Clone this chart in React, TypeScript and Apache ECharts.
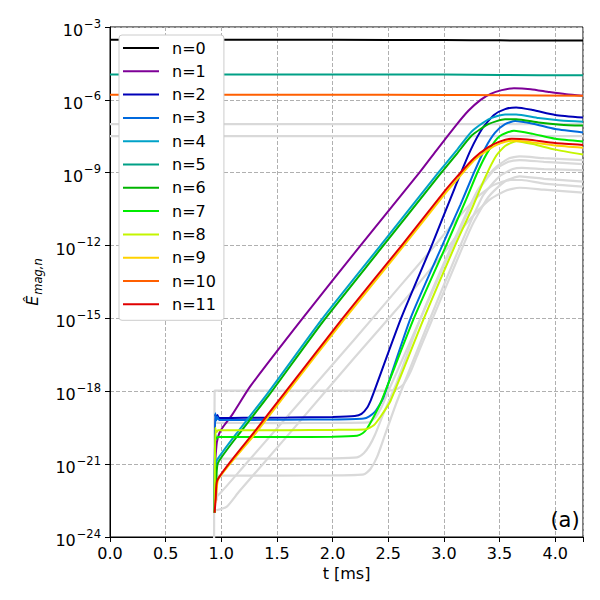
import React, { useEffect, useRef } from "react";
import * as echarts from "echarts";

// ---------- data (t in ms, values stored as log10 of E_mag,n) ----------
const LEGEND_NAMES = ["n=0", "n=1", "n=2", "n=3", "n=4", "n=5", "n=6", "n=7", "n=8", "n=9", "n=10", "n=11"];
const COLORS = ["#000000", "#7e0097", "#0000b8", "#0069dd", "#00a2c8", "#00a086", "#00b400", "#00ec00", "#c4f500", "#ffd200", "#ff5f00", "#e00000"];
const GREY = "#d9d9d9";

const X_TICKS = [0, 0.5, 1, 1.5, 2, 2.5, 3, 3.5, 4];
const Y_EXPONENTS = [-24, -21, -18, -15, -12, -9, -6, -3];

// constant (equilibrium) modes
const tConst = [0, 1, 2, 3, 3.5, 4.25];
const n0Log = [-3.52, -3.525, -3.53, -3.54, -3.55, -3.56];
const n5Log = [-4.955, -4.955, -4.957, -4.96, -4.975, -4.99];
const n10Log = [-5.79, -5.79, -5.79, -5.8, -5.81, -5.83];
const gConstALog = [-7.0, -7.0, -7.0, -7.0, -7.0, -7.0];
const gConstBLog = [-7.49, -7.49, -7.49, -7.49, -7.49, -7.49];

// n=1
const n1T = [0.945, 0.96, 0.98, 1.01, 1.1, 1.26, 1.73, 2.25, 2.78, 2.93, 3.1, 3.22, 3.33, 3.42, 3.52, 3.63, 3.78, 3.95, 4.1, 4.25];
const n1Log = [-20.9, -20.1, -19.75, -19.5, -18.95, -17.8, -15.0, -12.0, -9.0, -8.1, -7.1, -6.45, -6.0, -5.75, -5.6, -5.52, -5.56, -5.68, -5.77, -5.83];
// n=2
const n2T = [0.94, 0.945, 0.955, 0.965, 0.98, 1.2, 1.6, 2.0, 2.2, 2.26, 2.31, 2.345, 2.37, 2.615, 2.89, 3.1, 3.24, 3.35, 3.45, 3.55, 3.65, 3.8, 4.0, 4.25];
const n2Log = [-23, -18.95, -19.15, -18.98, -19.1, -19.09, -19.08, -19.06, -19.02, -18.93, -18.68, -18.35, -18.05, -15.0, -12.0, -9.6, -8.07, -7.15, -6.62, -6.38, -6.31, -6.42, -6.62, -6.73];
// n=3
const n3T = [0.94, 0.945, 0.955, 0.965, 0.98, 1.2, 1.6, 2.0, 2.28, 2.33, 2.38, 2.42, 2.46, 2.7, 2.985, 3.15, 3.27, 3.37, 3.46, 3.55, 3.64, 3.8, 4.0, 4.25];
const n3Log = [-23, -18.9, -19.2, -19.05, -19.18, -19.18, -19.17, -19.16, -19.12, -19.03, -18.85, -18.58, -18.22, -15.0, -12.0, -10.3, -9.0, -8.0, -7.35, -7.0, -6.87, -6.98, -7.2, -7.34];
// n=4
const n4T = [0.945, 0.96, 1.16, 1.43, 1.91, 2.43, 2.95, 3.12, 3.25, 3.4, 3.55, 3.65, 3.85, 4.05, 4.25];
const n4Log = [-21.3, -20.85, -19.6, -18.0, -15.0, -12.0, -9.0, -8.05, -7.3, -6.8, -6.6, -6.6, -6.75, -6.85, -6.9];
// n=6
const n6T = [0.945, 0.955, 0.97, 1.16, 1.43, 1.91, 2.43, 2.95, 3.12, 3.25, 3.4, 3.55, 3.65, 3.85, 4.05, 4.25];
const n6Log = [-22.0, -21.6, -20.95, -19.75, -18.15, -15.15, -12.15, -9.15, -8.2, -7.47, -7.0, -6.8, -6.8, -6.93, -7.02, -7.06];
// n=7
const n7T = [0.94, 0.945, 0.955, 0.97, 1.2, 1.6, 2.0, 2.22, 2.27, 2.31, 2.37, 2.43, 2.73, 3.02, 3.2, 3.31, 3.4, 3.5, 3.63, 3.8, 4.0, 4.25];
const n7Log = [-23, -19.75, -19.95, -19.88, -19.88, -19.88, -19.87, -19.83, -19.73, -19.53, -19.05, -18.5, -15.0, -12.0, -10.1, -8.9, -8.1, -7.5, -7.27, -7.4, -7.6, -7.71];
// n=8
const n8T = [0.94, 0.945, 0.955, 0.97, 1.2, 1.6, 2.0, 2.3, 2.37, 2.43, 2.52, 2.82, 3.1, 3.25, 3.37, 3.47, 3.55, 3.65, 3.8, 4.0, 4.25];
const n8Log = [-23, -19.5, -19.7, -19.6, -19.6, -19.6, -19.59, -19.56, -19.4, -19.05, -18.4, -15.0, -12.0, -10.5, -9.2, -8.3, -7.9, -7.7, -7.82, -8.05, -8.25];
// n=9
const n9T = [0.945, 0.955, 0.975, 1.31, 1.58, 2.09, 2.62, 3.0, 3.13, 3.27, 3.4, 3.5, 3.61, 3.75, 4.0, 4.25];
const n9Log = [-22.6, -22.2, -21.6, -19.72, -18.12, -15.12, -12.12, -9.92, -9.22, -8.5, -8.05, -7.8, -7.68, -7.72, -7.88, -7.97];
// n=11
const n11T = [0.94, 0.95, 0.965, 1.31, 1.58, 2.09, 2.62, 3.0, 3.13, 3.27, 3.4, 3.5, 3.61, 3.75, 4.0, 4.25];
const n11Log = [-23.0, -22.4, -21.65, -19.6, -18.0, -15.0, -12.0, -9.8, -9.1, -8.4, -7.95, -7.72, -7.6, -7.63, -7.78, -7.86];

// higher modes (grey)
const gAT = [0.935, 0.94, 1.5, 2.0, 2.55, 2.63, 2.7, 2.78, 3.0, 3.25, 3.4, 3.55, 3.68, 3.9, 4.25];
const gALog = [-27, -17.97, -17.97, -17.97, -17.96, -17.75, -17.2, -16.3, -13.9, -11.2, -10.0, -9.35, -9.15, -9.25, -9.37];
const gBT = [0.94, 0.95, 1.5, 2.0, 2.32, 2.38, 2.44, 2.52, 2.8, 3.08, 3.3, 3.45, 3.58, 3.68, 3.9, 4.25];
const gBLog = [-20, -19.3, -19.31, -19.3, -19.28, -19.1, -18.65, -17.8, -14.9, -12.0, -9.8, -8.9, -8.55, -8.48, -8.55, -8.65];
const gCT = [0.95, 0.96, 1.5, 2.0, 2.22, 2.28, 2.33, 2.38, 2.45, 2.58, 2.79, 3.07, 3.3, 3.45, 3.58, 3.68, 3.9, 4.25];
const gCLog = [-22, -20.77, -20.77, -20.76, -20.72, -20.55, -20.25, -19.8, -19.0, -17.6, -15.0, -12.0, -9.75, -8.85, -8.42, -8.33, -8.4, -8.48];
const gDT = [0.96, 0.97, 1.5, 2.0, 2.28, 2.34, 2.4, 2.47, 2.58, 2.85, 3.12, 3.35, 3.5, 3.62, 3.7, 3.9, 4.25];
const gDLog = [-22.5, -21.47, -21.47, -21.46, -21.42, -21.2, -20.7, -19.8, -18.4, -15.3, -12.3, -9.95, -9.15, -8.85, -8.8, -8.85, -8.9];
const gET = [0.955, 1.0, 1.2, 2.19, 2.6, 2.9, 3.1, 3.3, 3.45, 3.6, 3.7, 3.9, 4.25];
const gELog = [-22.35, -22.15, -21.1, -15.9, -13.7, -12.1, -11.0, -10.0, -9.5, -9.3, -9.3, -9.45, -9.57];
const gFT = [0.955, 1.05, 1.16, 1.64, 2.2, 2.6, 3.0, 3.2, 3.4, 3.55, 3.68, 3.9, 4.25];
const gFLog = [-22.9, -22.75, -22.13, -19.59, -16.6, -14.5, -12.3, -11.1, -10.15, -9.75, -9.62, -9.7, -9.82];

const FONT = "DejaVu Sans";

function pairs(t: number[], lg: number[]) {
  return t.map((x, i) => [x, lg[i]]);
}

function supExp(v: number) {
  const e = Math.round(v);
  if (!Y_EXPONENTS.includes(e) || Math.abs(v - e) > 1e-6) return "";
  return `{b|10}{s|${String(e).replace("-", "\u2212")}}`;
}

export default function App() {
  const ref = useRef<HTMLDivElement>(null);
  useEffect(() => {
    if (!ref.current) return;
    const chart = echarts.init(ref.current, undefined, { renderer: "svg" });

    const colored: [string, number[], number[]][] = [
      ["n=0", tConst, n0Log],
      ["n=1", n1T, n1Log],
      ["n=2", n2T, n2Log],
      ["n=3", n3T, n3Log],
      ["n=4", n4T, n4Log],
      ["n=5", tConst, n5Log],
      ["n=6", n6T, n6Log],
      ["n=7", n7T, n7Log],
      ["n=8", n8T, n8Log],
      ["n=9", n9T, n9Log],
      ["n=10", tConst, n10Log],
      ["n=11", n11T, n11Log],
    ];
    const greys: [number[], number[]][] = [
      [tConst, gConstALog],
      [tConst, gConstBLog],
      [gAT, gALog],
      [gBT, gBLog],
      [gCT, gCLog],
      [gDT, gDLog],
      [gET, gELog],
      [gFT, gFLog],
    ];

    const series: any[] = [];
    greys.forEach(([t, lg], i) => {
      series.push({
        type: "line",
        name: "g" + i,
        data: pairs(t, lg),
        symbol: "none",
        smooth: 0.2,
        color: GREY,
        lineStyle: { color: GREY, width: 2.2 },
        silent: true,
        emphasis: { disabled: true },
        z: 2,
      });
    });
    colored.forEach(([name, t, lg], i) => {
      series.push({
        type: "line",
        name,
        data: pairs(t, lg),
        symbol: "none",
        smooth: 0.2,
        color: COLORS[i],
        lineStyle: { color: COLORS[i], width: 2 },
        silent: true,
        emphasis: { disabled: true },
        z: 3,
      });
    });

    chart.setOption({
      animation: false,
      backgroundColor: "#ffffff",
      textStyle: { fontFamily: FONT },
      grid: {
        left: 110,
        right: 17,
        top: 27,
        bottom: 63,
        containLabel: false,
        outerBoundsMode: "none",
        show: true,
        borderColor: "#000",
        borderWidth: 1,
        backgroundColor: "transparent",
      },
      legend: {
        data: LEGEND_NAMES,
        orient: "vertical",
        left: 119,
        top: 35,
        icon: "rect",
        itemWidth: 36,
        itemHeight: 2,
        itemGap: 5.3,
        padding: [4, 8, 7, 4],
        backgroundColor: "#ffffff",
        borderColor: "#cccccc",
        borderWidth: 1,
        borderRadius: 3,
        selectedMode: false,
        textStyle: { fontFamily: FONT, fontSize: 16, lineHeight: 18, color: "#000", padding: [0, 0, 0, 8] },
        z: 10,
      },
      xAxis: {
        type: "value",
        min: 0,
        max: 4.25,
        interval: 0.5,
        name: "t [ms]",
        nameLocation: "middle",
        nameGap: 27,
        nameTextStyle: { fontFamily: FONT, fontSize: 16, color: "#000" },
        axisLine: { show: true, onZero: false, lineStyle: { color: "#000", width: 1 } },
        axisTick: { show: true, length: 5, lineStyle: { color: "#000" } },
        axisLabel: {
          margin: 8,
          fontFamily: FONT,
          fontSize: 16,
          color: "#000",
          formatter: (v: number) => (X_TICKS.some((x) => Math.abs(x - v) < 1e-9) ? v.toFixed(1) : ""),
        },
        splitLine: { show: true, lineStyle: { color: "#b0b0b0", type: [4, 2], width: 1 } },
      },
      yAxis: {
        type: "value",
        min: -24,
        max: -3,
        interval: 3,
        name: "{e|\u00CA}{s|mag,n}",
        nameLocation: "middle",
        nameRotate: 90,
        nameGap: 62,
        nameTextStyle: {
          rich: {
            e: { fontFamily: FONT, fontSize: 16, fontStyle: "italic", color: "#000", padding: [0, 0, 4, 0] },
            s: { fontFamily: FONT, fontSize: 11.5, fontStyle: "italic", color: "#000", padding: [7, 0, 0, 1] },
          },
        },
        axisLine: { show: true, onZero: false, lineStyle: { color: "#000", width: 1 } },
        axisTick: { show: true, length: 5, lineStyle: { color: "#000" } },
        axisLabel: {
          margin: 9,
          color: "#000",
          showMinLabel: true,
          showMaxLabel: true,
          formatter: (v: number) => supExp(v),
          rich: {
            b: { fontFamily: FONT, fontSize: 16, color: "#000", padding: [7, 0, 0, 0] },
            s: { fontFamily: FONT, fontSize: 11.5, color: "#000", padding: [0, 0, 7, 1] },
          },
        },
        splitLine: { show: true, lineStyle: { color: "#b0b0b0", type: [4, 2], width: 1 } },
      },
      graphic: [
        {
          type: "text",
          x: 565,
          y: 520,
          style: {
            text: "(a)",
            fontFamily: FONT,
            fontSize: 21,
            fill: "#000",
            align: "center",
            verticalAlign: "middle",
          },
          z: 20,
        },
      ],
      series,
    });

    return () => {
      chart.dispose();
    };
  }, []);

  return (
    <div
      ref={ref}
      style={{ position: "fixed", left: 0, top: 0, width: 600, height: 600, background: "#fff" }}
    />
  );
}
